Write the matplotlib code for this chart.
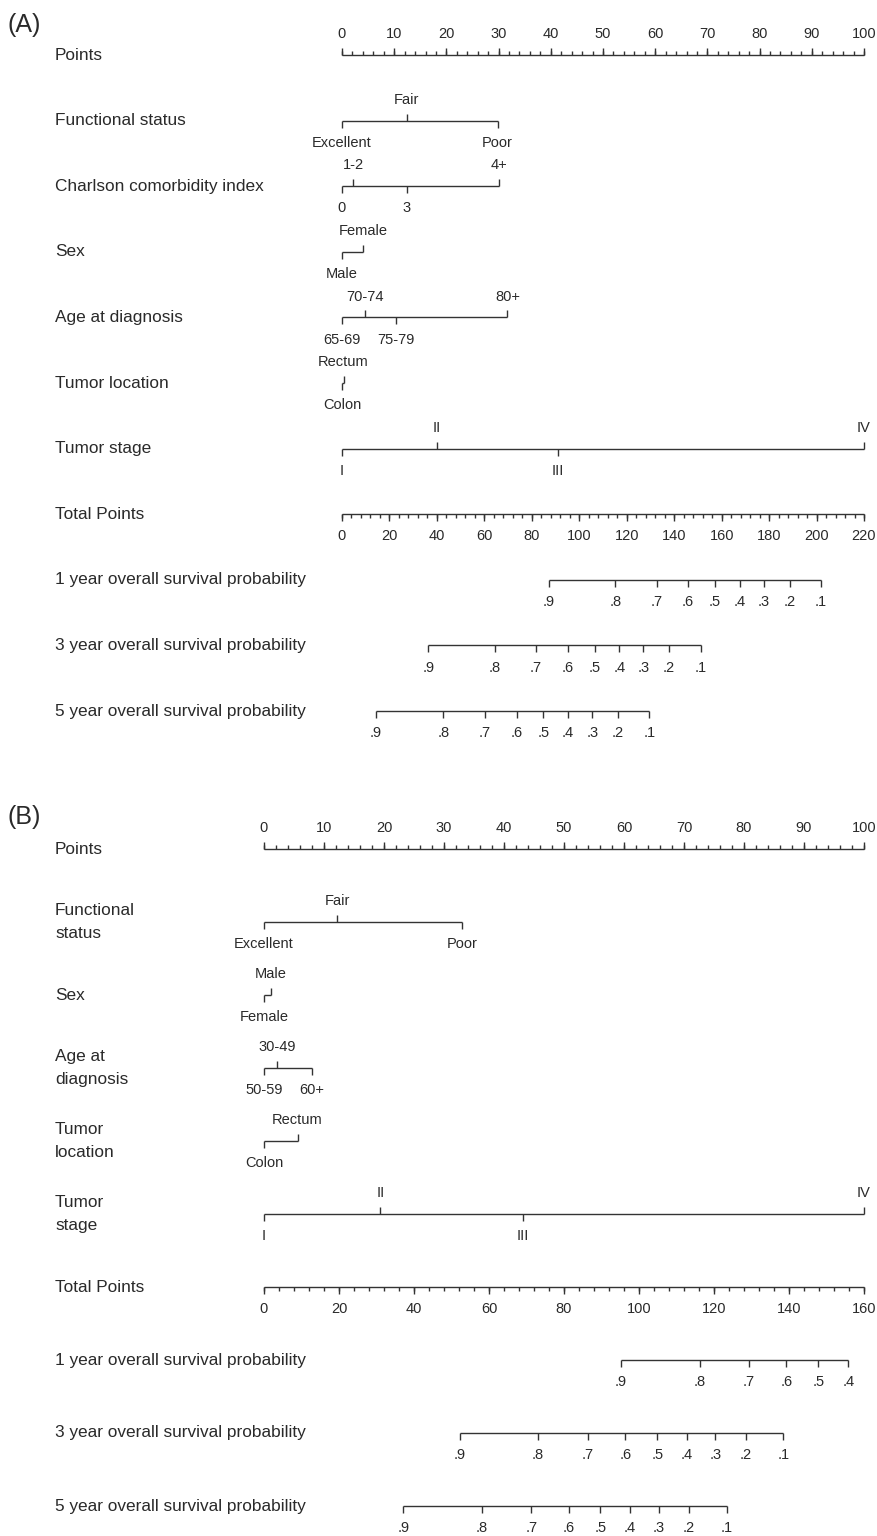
import matplotlib
matplotlib.use("Agg")
import matplotlib.pyplot as plt
from matplotlib.transforms import blended_transform_factory

plt.rcParams['font.family'] = ['Liberation Sans', 'DejaVu Sans']

W, H, DPI = 878, 1536, 100
INK = '#2a2a2a'
LINE = '#333333'

# ---------------- panel A data (points / total points)
a_points_ticks = list(range(0, 101, 10))
a_total_ticks = list(range(0, 221, 20))

a_func_labels = ['Excellent', 'Fair', 'Poor']
a_func_pts = [0, 12.4, 29.8]
a_cci_labels = ['0', '1-2', '3', '4+']
a_cci_pts = [0, 2.2, 12.4, 30.1]
a_sex_labels = ['Male', 'Female']
a_sex_pts = [0, 4.1]
a_age_labels = ['65-69', '70-74', '75-79', '80+']
a_age_pts = [0, 4.5, 10.3, 31.7]
a_loc_labels = ['Colon', 'Rectum']
a_loc_pts = [0, 0.3]
a_stage_labels = ['I', 'II', 'III', 'IV']
a_stage_pts = [0, 18.2, 41.3, 100]

a_prob_labels = ['.9', '.8', '.7', '.6', '.5', '.4', '.3', '.2', '.1']
a_1yr_total = [87.1, 115.2, 132.6, 145.8, 157.2, 167.6, 177.9, 188.7, 201.9]
a_3yr_total = [36.4, 64.4, 81.8, 95.1, 106.5, 116.9, 127.0, 137.7, 151.2]
a_5yr_total = [14.3, 42.7, 60.3, 73.6, 84.9, 95.2, 105.5, 116.2, 129.5]

# ---------------- panel B data
b_points_ticks = list(range(0, 101, 10))
b_total_ticks = list(range(0, 161, 20))

b_func_labels = ['Excellent', 'Fair', 'Poor']
b_func_pts = [0, 12.2, 33.0]
b_sex_labels = ['Female', 'Male']
b_sex_pts = [0, 1.1]
b_age_labels = ['50-59', '30-49', '60+']
b_age_pts = [0, 2.2, 8.0]
b_loc_labels = ['Colon', 'Rectum']
b_loc_pts = [0, 5.6]
b_stage_labels = ['I', 'II', 'III', 'IV']
b_stage_pts = [0, 19.4, 43.2, 100]

b_1yr_labels = ['.9', '.8', '.7', '.6', '.5', '.4']
b_1yr_total = [95.2, 116.2, 129.3, 139.3, 147.8, 155.8]
b_prob_labels = ['.9', '.8', '.7', '.6', '.5', '.4', '.3', '.2', '.1']
b_3yr_total = [52.2, 73.1, 86.3, 96.4, 104.9, 112.8, 120.4, 128.5, 138.5]
b_5yr_total = [37.2, 58.1, 71.3, 81.3, 89.7, 97.6, 105.3, 113.3, 123.4]

fig = plt.figure(figsize=(W / DPI, H / DPI), dpi=DPI)

TICK_FS = 10.5
ROW_FS = 12.4
LW = 1.0


def make_axes(x0, x1, top, bot, row0, step, xlim):
    # rows are spaced evenly; row r sits at pixel row0 + r*step
    ax = fig.add_axes([x0 / W, 1 - bot / H, (x1 - x0) / W, (bot - top) / H])
    ax.set_xlim(*xlim)
    ax.set_ylim((bot - row0) / step, (top - row0) / step)
    ax.axis('off')
    ax.patch.set_alpha(0)
    return ax


def label(ax, txt, x, row, up):
    ax.annotate(txt, (x, row), xytext=(0, 15 if up else -16), textcoords='offset points',
                ha='center', va='center', fontsize=TICK_FS, color=INK, annotation_clip=False)


def hline(ax, lo, hi, row):
    ax.plot([lo, hi], [row, row], color=LINE, lw=LW, clip_on=False, solid_capstyle='butt')


def ticks(ax, xs, row, up, size):
    ax.plot(xs, [row] * len(xs), ls='none', marker=2 if up else 3, markersize=size,
            markeredgewidth=LW, color=LINE, clip_on=False)


def scale_axis(ax, row, major, n_minor, up):
    hline(ax, major[0], major[-1], row)
    step = (major[1] - major[0]) / n_minor
    minor = [major[0] + i * step for i in range(int(round((major[-1] - major[0]) / step)) + 1)]
    ticks(ax, minor, row, up, 3)
    ticks(ax, major, row, up, 5)
    for m in major:
        label(ax, str(m), m, row, up)


def category(ax, row, labels, pts):
    hline(ax, min(pts), max(pts), row)
    for i, (t, p) in enumerate(zip(labels, pts)):
        up = i % 2 == 1
        ticks(ax, [p], row, up, 5)
        label(ax, t, p, row, up)


def prob_axis(ax, row, labels, totals):
    hline(ax, min(totals), max(totals), row)
    ticks(ax, totals, row, False, 5)
    for t, p in zip(labels, totals):
        label(ax, t, p, row, False)


def row_names(ax, names, rows):
    tr = blended_transform_factory(fig.transFigure, ax.transData)
    for n, r in zip(names, rows):
        parts = n.split('\n')
        # two-line names: lines about 22 px apart, centred on the row
        offs = [0] if len(parts) == 1 else [8, -8]
        for part, off in zip(parts, offs):
            ax.annotate(part, (55 / W, r), xycoords=tr, xytext=(0, off),
                        textcoords='offset points', ha='left', va='center',
                        fontsize=ROW_FS, color=INK, annotation_clip=False)


# ================= panel A
a_row0, a_step = 55, 65.6
ax_a = make_axes(342, 864, 10, 760, a_row0, a_step, (0, 100))
ax_at = make_axes(342, 864, 10, 760, a_row0, a_step, (0, 220))

scale_axis(ax_a, 0, a_points_ticks, 5, True)
category(ax_a, 1, a_func_labels, a_func_pts)
category(ax_a, 2, a_cci_labels, a_cci_pts)
category(ax_a, 3, a_sex_labels, a_sex_pts)
category(ax_a, 4, a_age_labels, a_age_pts)
category(ax_a, 5, a_loc_labels, a_loc_pts)
category(ax_a, 6, a_stage_labels, a_stage_pts)
scale_axis(ax_at, 7, a_total_ticks, 5, False)
prob_axis(ax_at, 8, a_prob_labels, a_1yr_total)
prob_axis(ax_at, 9, a_prob_labels, a_3yr_total)
prob_axis(ax_at, 10, a_prob_labels, a_5yr_total)

row_names(ax_a, ['Points', 'Functional status', 'Charlson comorbidity index', 'Sex',
                 'Age at diagnosis', 'Tumor location', 'Tumor stage', 'Total Points',
                 '1 year overall survival probability', '3 year overall survival probability',
                 '5 year overall survival probability'], range(11))
fig.text(8 / W, 1 - 25 / H, '(A)', fontsize=18, color=INK, ha='left', va='center')

# ================= panel B
b_row0, b_step = 849, 73
ax_b = make_axes(264, 864, 790, 1530, b_row0, b_step, (0, 100))
ax_bt = make_axes(264, 864, 790, 1530, b_row0, b_step, (0, 160))

scale_axis(ax_b, 0, b_points_ticks, 5, True)
category(ax_b, 1, b_func_labels, b_func_pts)
category(ax_b, 2, b_sex_labels, b_sex_pts)
category(ax_b, 3, b_age_labels, b_age_pts)
category(ax_b, 4, b_loc_labels, b_loc_pts)
category(ax_b, 5, b_stage_labels, b_stage_pts)
scale_axis(ax_bt, 6, b_total_ticks, 5, False)
prob_axis(ax_bt, 7, b_1yr_labels, b_1yr_total)
prob_axis(ax_bt, 8, b_prob_labels, b_3yr_total)
prob_axis(ax_bt, 9, b_prob_labels, b_5yr_total)

row_names(ax_b, ['Points', 'Functional\nstatus', 'Sex', 'Age at\ndiagnosis', 'Tumor\nlocation',
                 'Tumor\nstage', 'Total Points', '1 year overall survival probability',
                 '3 year overall survival probability', '5 year overall survival probability'],
          range(10))
fig.text(8 / W, 1 - 817 / H, '(B)', fontsize=18, color=INK, ha='left', va='center')

fig.savefig('out.png', dpi=DPI, facecolor='white')
